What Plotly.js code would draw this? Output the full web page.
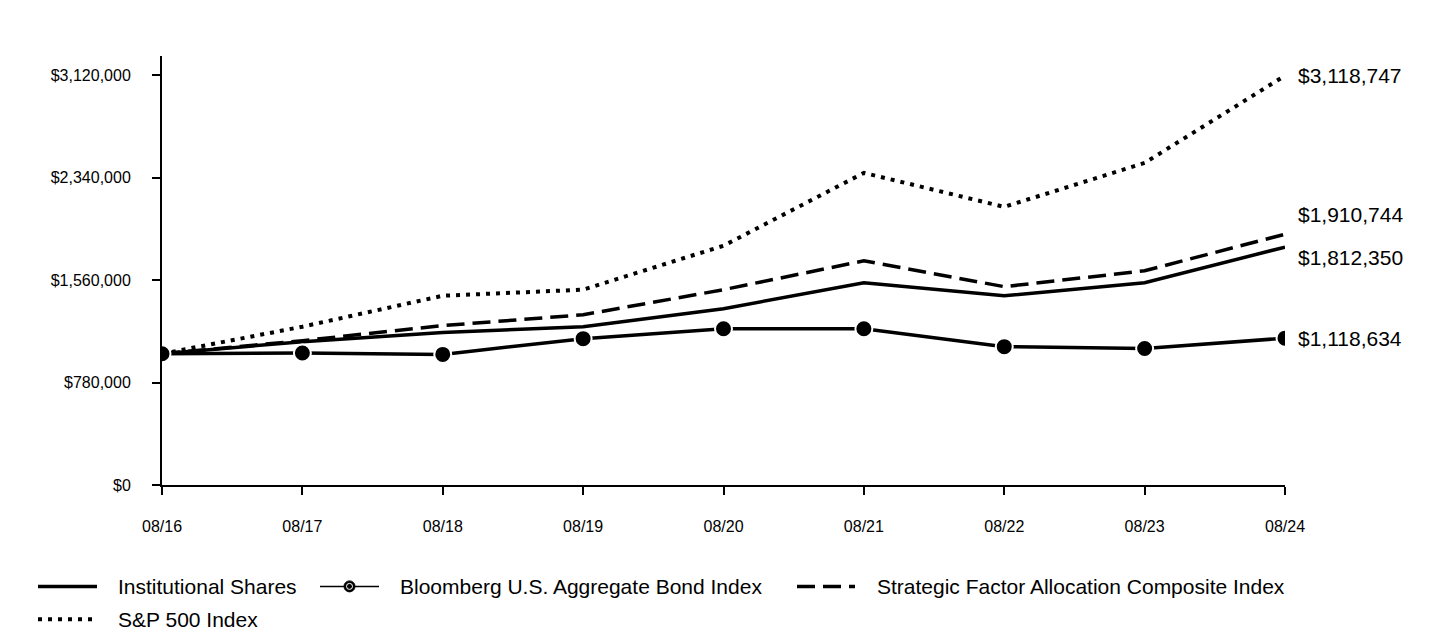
<!DOCTYPE html>
<html>
<head>
<meta charset="utf-8">
<script src="https://cdn.plot.ly/plotly-3.0.1.min.js"></script>
<style>
  html, body { margin: 0; padding: 0; background: #fff; }
  #chart { width: 1440px; height: 636px; }
</style>
</head>
<body>
<div id="chart"></div>
<script>
// ---- Data ----
const periods = ['08/16', '08/17', '08/18', '08/19', '08/20', '08/21', '08/22', '08/23', '08/24'];
const institutionalShares = [1000000, 1092000, 1161000, 1206000, 1343000, 1541000, 1442000, 1541000, 1812350];
const bloombergAgg = [1000000, 1006000, 995000, 1115000, 1190000, 1190000, 1054000, 1040000, 1118634];
const strategicComposite = [1000000, 1100000, 1214000, 1297000, 1488000, 1708000, 1511000, 1632000, 1910744];
const sp500 = [1000000, 1206000, 1442000, 1488000, 1823000, 2378000, 2119000, 2454000, 3118747];
const seriesNames = ['Institutional Shares', 'Bloomberg U.S. Aggregate Bond Index', 'Strategic Factor Allocation Composite Index', 'S&P 500 Index'];
const yTicks = [0, 780000, 1560000, 2340000, 3120000];

// ---- Layout geometry ----
const W = 1440, H = 636;
const M = { l: 162, r: 155, t: 56, b: 150.5 };
const plotW = W - M.l - M.r, plotH = H - M.t - M.b;
const px = x => (x - M.l) / plotW;          // pixel -> paper x
const py = y => (H - M.b - y) / plotH;      // pixel -> paper y
const FONT = 'Liberation Sans, Arial, sans-serif';

const fmt = v => '$' + v.toLocaleString('en-US');

const traces = [
  { x: periods, y: sp500, name: seriesNames[3], mode: 'lines',
    line: { color: '#000', width: 4, dash: '4px,6px' } },
  { x: periods, y: strategicComposite, name: seriesNames[2], mode: 'lines',
    line: { color: '#000', width: 3.5, dash: '18px,8px' } },
  { x: periods, y: institutionalShares, name: seriesNames[0], mode: 'lines',
    line: { color: '#000', width: 3.5 } },
  { x: periods, y: bloombergAgg, name: seriesNames[1], mode: 'lines+markers',
    line: { color: '#000', width: 3.5 },
    marker: { color: '#000', size: 17, line: { color: '#fff', width: 2 } } }
];

const last = periods.length - 1;
const endLabels = [
  { y: sp500[last], shift: 0 },
  { y: strategicComposite[last], shift: 20 },
  { y: institutionalShares[last], shift: -10 },
  { y: bloombergAgg[last], shift: 0 }
].map(d => ({
  x: periods[last], y: d.y, xref: 'x', yref: 'y', text: fmt(d.y),
  showarrow: false, xanchor: 'left', yanchor: 'middle', xshift: 11, yshift: d.shift,
  font: { family: FONT, size: 21, color: '#000' }
}));

// ---- Custom legend ----
const legendRows = [587, 620];
const legendItems = [
  { name: seriesNames[0], x0: 38, x1: 97, tx: 116, row: 0, dash: 'solid', width: 3.5 },
  { name: seriesNames[1], x0: 320, x1: 379, tx: 398, row: 0, dash: 'solid', width: 1.5, marker: true },
  { name: seriesNames[2], x0: 797, x1: 855, tx: 875, row: 0, dash: '18px,8px', width: 3.5 },
  { name: seriesNames[3], x0: 38, x1: 97, tx: 116, row: 1, dash: '4px,6px', width: 4 }
];
const shapes = [];
const legendAnn = [];
legendItems.forEach(it => {
  const yy = legendRows[it.row];
  shapes.push({ type: 'line', xref: 'paper', yref: 'paper',
    x0: px(it.x0), x1: px(it.x1), y0: py(yy), y1: py(yy),
    line: { color: '#000', width: it.width, dash: it.dash } });
  if (it.marker) {
    const cx = (it.x0 + it.x1) / 2;
    shapes.push({ type: 'circle', xref: 'paper', yref: 'paper',
      x0: px(cx - 5.5), x1: px(cx + 5.5), y0: py(yy + 5.5), y1: py(yy - 5.5),
      fillcolor: '#000', line: { color: '#000', width: 1 } });
    shapes.push({ type: 'circle', xref: 'paper', yref: 'paper',
      x0: px(cx - 3), x1: px(cx + 3), y0: py(yy + 3), y1: py(yy - 3),
      fillcolor: 'rgba(0,0,0,0)', line: { color: '#fff', width: 1 } });
  }
  legendAnn.push({ xref: 'paper', yref: 'paper', x: px(it.tx), y: py(yy),
    text: it.name, showarrow: false, xanchor: 'left', yanchor: 'middle',
    font: { family: FONT, size: 21, color: '#000' } });
});

const layout = {
  width: W, height: H,
  margin: M,
  paper_bgcolor: '#fff', plot_bgcolor: '#fff',
  showlegend: false,
  font: { family: FONT, color: '#000' },
  xaxis: {
    type: 'category', range: [0, last],
    showgrid: false, zeroline: false,
    showline: true, linecolor: '#000', linewidth: 2,
    ticks: 'outside', ticklen: 8, tickwidth: 2, tickcolor: '#000',
    tickfont: { family: FONT, size: 16, color: '#000' },
    ticklabelstandoff: 18
  },
  yaxis: {
    range: [0, 3120000 * (H - M.b - M.t) / (H - M.b - 75.5)],
    tickvals: yTicks, tickformat: '$,.0f',
    showgrid: false, zeroline: false,
    showline: true, linecolor: '#000', linewidth: 2,
    ticks: 'outside', ticklen: 8, tickwidth: 2, tickcolor: '#000',
    tickfont: { family: FONT, size: 16, color: '#000' },
    ticklabelstandoff: 18
  },
  shapes: shapes,
  annotations: endLabels.concat(legendAnn)
};

Plotly.newPlot('chart', traces, layout, { displayModeBar: false, staticPlot: true });
</script>
</body>
</html>
